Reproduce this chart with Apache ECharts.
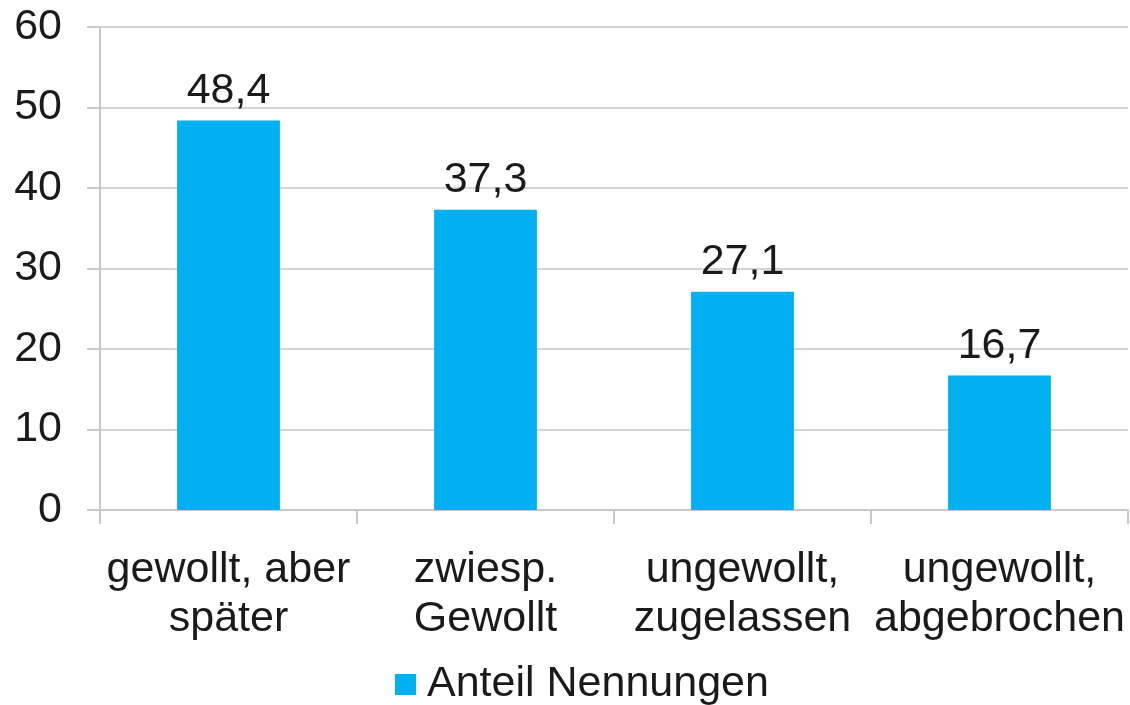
<!DOCTYPE html>
<html>
<head>
<meta charset="utf-8">
<script src="https://cdn.jsdelivr.net/npm/echarts@6/dist/echarts.min.js"></script>
<style>
  html, body { margin: 0; padding: 0; background: #fff; }
  #main { width: 1130px; height: 705px; }
</style>
</head>
<body>
<div id="main"></div>
<script>
// Daten
var categories = ['gewollt, aber\nspäter', 'zwiesp.\nGewollt', 'ungewollt,\nzugelassen', 'ungewollt,\nabgebrochen'];
var anteil = [48.4, 37.3, 27.1, 16.7];
var seriesName = 'Anteil Nennungen';

var chart = echarts.init(document.getElementById('main'));
var font = 'Liberation Sans, Arial, sans-serif';

var option = {
  animation: false,
  grid: { left: 100, right: 2, top: 27, bottom: 195 },
  legend: {
    bottom: -6,
    left: 390,
    itemWidth: 21,
    itemHeight: 21,
    itemGap: 10,
    icon: 'rect',
    textStyle: { fontFamily: font, fontSize: 43, color: '#1a1a1a', padding: [0, 0, 0, 6] },
    data: [seriesName]
  },
  xAxis: {
    type: 'category',
    data: categories,
    axisLine: { lineStyle: { color: '#c8c8c8', width: 2 } },
    axisTick: { show: true, length: 14, alignWithLabel: false, lineStyle: { color: '#c8c8c8', width: 2 } },
    axisLabel: {
      fontFamily: font, fontSize: 43, color: '#1a1a1a',
      lineHeight: 49, margin: 36, interval: 0
    }
  },
  yAxis: {
    type: 'value',
    min: 0, max: 60, interval: 10,
    axisLine: { show: true, lineStyle: { color: '#c8c8c8', width: 2 } },
    axisTick: { show: true, length: 13, lineStyle: { color: '#c8c8c8', width: 2 } },
    splitLine: { lineStyle: { color: '#d4d4d4', width: 2 } },
    axisLabel: { fontFamily: font, fontSize: 43, color: '#1a1a1a', margin: 38 }
  },
  series: [
    {
      name: seriesName,
      type: 'bar',
      data: anteil,
      barWidth: '40%',
      itemStyle: { color: '#00B0F0' },
      label: {
        show: true,
        position: 'top',
        distance: 8,
        fontFamily: font,
        fontSize: 43,
        color: '#1a1a1a',
        formatter: function (p) { return String(p.value).replace('.', ','); }
      }
    }
  ]
};
chart.setOption(option);
</script>
</body>
</html>
